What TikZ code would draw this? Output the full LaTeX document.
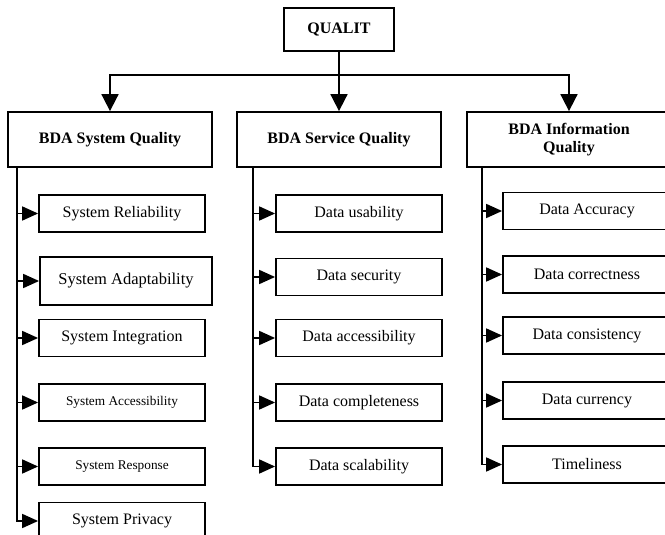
\documentclass[tikz,border=0pt]{standalone}
\usepackage{fontspec}
\setmainfont{Liberation Serif}
\usetikzlibrary{arrows.meta}

\begin{document}
\begin{tikzpicture}[x=1pt,y=-1pt,
					line width=1.8pt,
					%>=stealth,
					every node/.style={font=\fontsize{16}{18}\selectfont},
					top node/.style={draw,minimum width=110pt,minimum height=43pt,font=\fontsize{16}{18}\selectfont\bfseries},
					head node/.style={draw,minimum width=204pt,minimum height=55pt,align=center,font=\fontsize{16}{18}\selectfont\bfseries},
					item node/.style={draw,minimum width=166pt,minimum height=37pt},
					small item/.style={item node,font=\fontsize{13.3}{15}\selectfont},
					down/.style={-{Triangle[length=17pt,width=17pt]}},
					side/.style={-{Triangle[length=16pt,width=14pt]}}]

  \useasboundingbox (0,0) rectangle (665,535);
  \clip (0,0) rectangle (665,535);

  % top and the three groups
  \node[top node] (qualit) at (339,29.5) {QUALIT};
  \node[head node] (sys) at (110,139.5) {BDA System Quality};
  \node[head node] (serv) at (339,139.5) {BDA Service Quality};
  \node[head node] (info) at (569,139.5) {BDA Information\\Quality};

  \coordinate (bus) at (339,75);
  \draw (qualit) -- (bus);
  \draw[down] (bus) -| (sys);
  \draw[down] (bus) -- (serv);
  \draw[down] (bus) -| (info);

  % system quality
  \node[item node] (sysrel) at (122,213.5) {System Reliability};
  \node[item node,minimum width=172pt,minimum height=48pt,font=\fontsize{16.5}{18}\selectfont] (sysada) at (126,281) {System Adaptability};
  \node[item node] (sysint) at (122,338) {System Integration};
  \node[small item] (sysacc) at (122,402.5) {System Accessibility};
  \node[small item] (sysres) at (122,466.5) {System Response};
  \node[item node] (syspri) at (122,521) {System Privacy};

  \coordinate (sysbar) at (17,167);
  \draw[side] (sysbar) |- (sysrel);
  \draw[side] (sysbar) |- (sysada);
  \draw[side] (sysbar) |- (sysint);
  \draw[side] (sysbar) |- (sysacc);
  \draw[side] (sysbar) |- (sysres);
  \draw[side] (sysbar) |- (syspri);

  % service quality
  \node[item node] (datuse) at (359,213.5) {Data usability};
  \node[item node] (datsec) at (359,277) {Data security};
  \node[item node] (datacc) at (359,338) {Data accessibility};
  \node[item node] (datcom) at (359,402.5) {Data completeness};
  \node[item node] (datsca) at (359,466.5) {Data scalability};

  \coordinate (servbar) at (253,167);
  \draw[side] (servbar) |- (datuse);
  \draw[side] (servbar) |- (datsec);
  \draw[side] (servbar) |- (datacc);
  \draw[side] (servbar) |- (datcom);
  \draw[side] (servbar) |- (datsca);

  % information quality
  \node[item node,minimum width=168pt] (infacc) at (587,211) {Data Accuracy};
  \node[item node,minimum width=168pt] (infcor) at (587,274.5) {Data correctness};
  \node[item node,minimum width=168pt] (infcon) at (587,335.5) {Data consistency};
  \node[item node,minimum width=168pt] (infcur) at (587,400.5) {Data currency};
  \node[item node,minimum width=168pt] (inftim) at (587,464.5) {Timeliness};

  \coordinate (infobar) at (482,167);
  \draw[side] (infobar) |- (infacc);
  \draw[side] (infobar) |- (infcor);
  \draw[side] (infobar) |- (infcon);
  \draw[side] (infobar) |- (infcur);
  \draw[side] (infobar) |- (inftim);
\end{tikzpicture}
\end{document}
